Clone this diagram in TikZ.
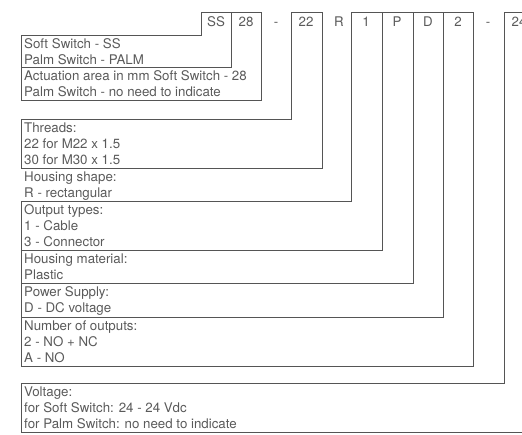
\documentclass[tikz,border=0pt]{standalone}
\usepackage{fontspec}
\setmainfont{TeX Gyre Heros}
\usepackage{tikz}
\usetikzlibrary{positioning}
\definecolor{rule}{RGB}{85,85,85}
\definecolor{ink}{RGB}{90,90,90}
% lines of one field text, first baseline 13.8 below the top
\newcommand{\fieldtext}[3]{%
  \foreach \ln [count=\i] in {#3}
    \node[txt] (#1\i) at (24,#2+13.8+15.8*\i-15.8) {\ln};}
\begin{document}
\begin{tikzpicture}[x=1pt,y=-1pt,
  txt/.style={anchor=base west,inner sep=0pt,text=ink,font=\fontsize{13.3}{16}\selectfont},
  code/.style={anchor=base,inner sep=0pt,text=ink,font=\fontsize{13.3}{16}\selectfont},
  frame/.style={draw=rule,line width=1pt,line join=miter}]
  \useasboundingbox (0,0) rectangle (522,434);
  \clip (0,0) rectangle (522,434);
  % code cells
  \foreach \c/\x in {SS/216,28/246,-/276,22/306,R/339,1/366,P/397,D/428,2/458,-/488,24/519}
    \node[code] at (\x,26) {\c};
  % field frames
  \draw[frame] (21,35) -- (201,35) -- (201,12) -- (231,12) -- (231,67) -- (21,67) -- cycle;
  \draw[frame] (21,67) -- (21,100) -- (261,100) -- (261,12) -- (231,12);
  \draw[frame] (21,119) -- (291,119) -- (291,12) -- (322,12) -- (322,168) -- (21,168) -- cycle;
  \draw[frame] (21,201) -- (351,201) -- (351,12) -- (473,12);
  \draw[frame] (21,201) -- (21,250) -- (382,250) -- (382,12);
  \draw[frame] (21,250) -- (21,283) -- (413,283) -- (413,12);
  \draw[frame] (21,283) -- (21,317) -- (443,317) -- (443,12);
  \draw[frame] (21,317) -- (21,366) -- (473,366) -- (473,12);
  \draw[frame] (21,383) -- (504,383) -- (504,12) -- (540,12);
  \draw[frame] (21,383) -- (21,432) -- (540,432);
  % field texts
  \fieldtext{type}{35}{Soft Switch - SS,Palm Switch - PALM}
  \fieldtext{area}{67}{Actuation area in mm Soft Switch - 28,Palm Switch - no need to indicate}
  \fieldtext{thr}{119}{Threads:,22 for M22 x 1.5,30 for M30 x 1.5}
  \fieldtext{shape}{168}{Housing shape:,R - rectangular}
  \fieldtext{out}{201}{Output types:,1 - Cable,3 - Connector}
  \fieldtext{mat}{250}{Housing material:,Plastic}
  \fieldtext{pow}{283}{Power Supply:,D - DC voltage}
  \fieldtext{num}{317}{Number of outputs:,2 - NO + NC,A - NO}
  \fieldtext{volt}{383}{Voltage:,for Soft Switch: 24 - 24 Vdc,for Palm Switch: no need to indicate}
\end{tikzpicture}
\end{document}
